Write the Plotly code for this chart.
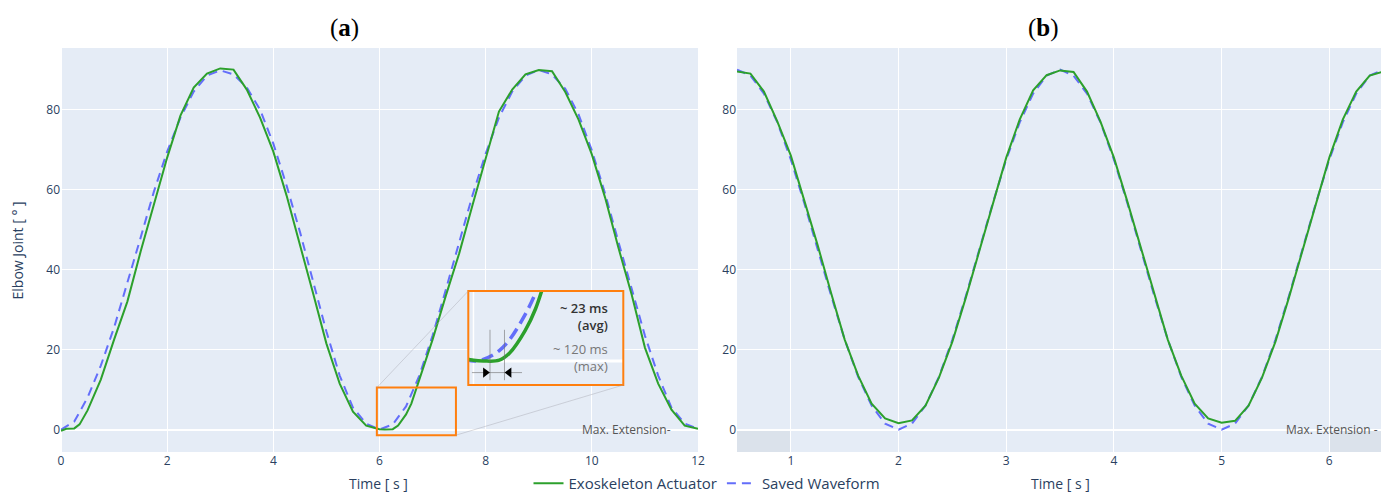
import plotly.graph_objects as go

# ---------------- data ----------------
# Panel (a): Saved waveform sampled every 0.25 s
time_a_saved = [0, 0.25, 0.5, 0.75, 1, 1.25, 1.5, 1.75, 2, 2.25, 2.5, 2.75, 3, 3.25, 3.5, 3.75,
                4, 4.25, 4.5, 4.75, 5, 5.25, 5.5, 5.75, 6, 6.25, 6.5, 6.75, 7, 7.25, 7.5, 7.75,
                8, 8.25, 8.5, 8.75, 9, 9.25, 9.5, 9.75, 10, 10.25, 10.5, 10.75, 11, 11.25, 11.5,
                11.75, 12]
saved_a = [0.0, 2.0, 8.0, 16.0, 25.5, 36.5, 48.0, 59.5, 69.5, 78.0, 84.5, 88.5, 89.8, 88.8, 85.5,
           80.0, 71.5, 61.0, 49.5, 37.0, 24.5, 13.5, 5.5, 1.5, 0.0,
           1.3, 5.8, 13.5, 23.5, 35.0, 47.0, 58.5, 69.0, 78.0, 84.5, 88.5, 89.9, 88.8, 85.2,
           78.8, 69.8, 59.0, 47.0, 35.5, 23.5, 13.5, 5.5, 1.5, 0.2]

# Panel (a): Exoskeleton actuator
time_a_act = [0, 0.1, 0.25, 0.35, 0.5, 0.75, 1.0, 1.25, 1.5, 1.75, 2.0, 2.25, 2.5, 2.75, 3.0,
              3.25, 3.5, 3.75, 4.0, 4.25, 4.5, 4.75, 5.0, 5.25, 5.5, 5.75, 6.0, 6.1, 6.25, 6.35,
              6.5, 6.6, 6.75, 7.0, 7.25, 7.5, 7.75, 8.0, 8.25, 8.5, 8.75, 9.0, 9.25, 9.5, 9.75,
              10.0, 10.25, 10.5, 10.75, 11.0, 11.25, 11.5, 11.75, 12.0]
actuator_a = [-0.3, 0.2, 0.3, 1.3, 4.8, 12.5, 22.5, 32.0, 44.5, 56.5, 68.0, 78.5, 85.5, 89.0,
              90.3, 90.0, 85.0, 78.0, 69.5, 58.5, 46.5, 34.0, 21.5, 11.5, 4.5, 1.0, 0.1, 0.0,
              0.1, 1.0, 3.8, 6.5, 12.5, 22.5, 33.5, 44.0, 56.0, 68.0, 79.5, 85.0, 88.8, 89.9,
              89.6, 84.4, 77.5, 68.8, 58.0, 45.5, 33.8, 20.5, 11.5, 5.0, 1.0, 0.2]

# Panel (b): sampled every 0.125 s
time_b = [0.5, 0.625, 0.75, 0.875, 1.0, 1.125, 1.25, 1.375, 1.5, 1.625, 1.75, 1.875, 2.0, 2.125,
          2.25, 2.375, 2.5, 2.625, 2.75, 2.875, 3.0, 3.125, 3.25, 3.375, 3.5, 3.625, 3.75, 3.875,
          4.0, 4.125, 4.25, 4.375, 4.5, 4.625, 4.75, 4.875, 5.0, 5.125, 5.25, 5.375, 5.5, 5.625,
          5.75, 5.875, 6.0, 6.125, 6.25, 6.375, 6.5]
saved_b = [90.0, 88.5, 84.0, 76.8, 67.5, 56.6, 45.0, 33.4, 22.5, 13.2, 6.0, 1.5, 0.0, 1.5, 6.0,
           13.2, 22.5, 33.4, 45.0, 56.6, 67.5, 76.8, 84.0, 88.5, 90.0, 88.5, 84.0, 76.8, 67.5,
           56.6, 45.0, 33.4, 22.5, 13.2, 6.0, 1.5, 0.0, 1.5, 6.0, 13.2, 22.5, 33.4, 45.0, 56.6,
           67.5, 76.8, 84.0, 88.5, 90.0]
actuator_b = [89.5, 89.0, 84.5, 77.0, 68.5, 57.5, 46.0, 34.0, 22.5, 13.5, 6.5, 2.8, 1.6, 2.3,
              6.0, 13.0, 22.0, 33.0, 44.5, 56.5, 68.0, 77.5, 84.8, 88.6, 89.8, 89.4, 84.5, 77.0,
              68.0, 57.0, 45.5, 33.8, 22.5, 13.5, 6.5, 2.8, 1.7, 2.2, 6.0, 13.0, 22.0, 33.0, 44.5,
              56.5, 68.0, 77.5, 84.5, 88.5, 89.5]

x_ticks_a = [0, 2, 4, 6, 8, 10, 12]
x_ticks_b = [1, 2, 3, 4, 5, 6]
y_ticks = [0, 20, 40, 60, 80]

zoom_window_t = [5.95, 7.44]      # small orange box (data coords of panel a)
zoom_window_v = [-1.4, 10.5]
inset_view_t = [5.95, 7.45]       # what the magnified inset shows
inset_view_v = [-3.0, 8.75]
inset_grid_t = 6.0
lag_bounds_t = [6.16, 6.30]       # the two thin markers of the delay
lag_span_t = [5.985, 6.47]
lag_level_v = -1.45
lag_marker_v = [-2.4, 3.9]
shaded_b_t = [[0.5, 1.0], [6.0, 6.48]]

# ---------------- layout geometry ----------------
W, H = 1385, 493
ML, MR, MT, MB = 61, 4, 48, 41
PW = W - ML - MR
PH = H - MT - MB


def px_x(px):
    return (px - ML) / PW


def px_y(py):
    return (H - MB - py) / PH


dom_a = [0, px_x(698)]
dom_b = [px_x(737), 1.0]
y_range = [-5.6, 95.4]
x_range_a = [0, 12]
x_range_b = [0.5, 6.48]
inset_dom_x = [px_x(468.3), px_x(623.3)]
inset_dom_y = [px_y(385), px_y(291)]


def a_to_paper(t, v):
    px = dom_a[0] + (t - x_range_a[0]) / (x_range_a[1] - x_range_a[0]) * (dom_a[1] - dom_a[0])
    py = (v - y_range[0]) / (y_range[1] - y_range[0])
    return px, py


GREEN = "#2ca02c"
BLUE = "#636efa"
ORANGE = "#ff7f0e"
BG = "#e5ecf6"
FONT = "Open Sans"
TITLE_COLOR = "#2a3f5f"

fig = go.Figure()

# panel (a)
fig.add_trace(go.Scatter(x=time_a_saved, y=saved_a, mode="lines", name="Saved Waveform",
                         line=dict(color=BLUE, width=2, dash="9px,6px"), legendrank=2,
                         xaxis="x", yaxis="y"))
fig.add_trace(go.Scatter(x=time_a_act, y=actuator_a, mode="lines", name="Exoskeleton Actuator",
                         line=dict(color=GREEN, width=2), legendrank=1, xaxis="x", yaxis="y"))
# panel (b)
fig.add_trace(go.Scatter(x=time_b, y=saved_b, mode="lines", showlegend=False,
                         line=dict(color=BLUE, width=2, dash="9px,6px"), xaxis="x2", yaxis="y2"))
fig.add_trace(go.Scatter(x=time_b, y=actuator_b, mode="lines", showlegend=False,
                         line=dict(color=GREEN, width=2), xaxis="x2", yaxis="y2"))

# inset: opaque background and its own grid lines (drawn as traces under the data)
t0, t1 = inset_view_t
v0, v1 = inset_view_v
fig.add_trace(go.Scatter(x=[t0, t1, t1, t0, t0], y=[v0, v0, v1, v1, v0], mode="lines",
                         fill="toself", fillcolor=BG, line=dict(width=0, color=BG),
                         showlegend=False, hoverinfo="skip", xaxis="x3", yaxis="y3"))
fig.add_trace(go.Scatter(x=[t0, t1], y=[0, 0], mode="lines", line=dict(color="white", width=3),
                         showlegend=False, hoverinfo="skip", xaxis="x3", yaxis="y3"))
fig.add_trace(go.Scatter(x=[inset_grid_t, inset_grid_t], y=[v0, v1], mode="lines",
                         line=dict(color="white", width=1.5),
                         showlegend=False, hoverinfo="skip", xaxis="x3", yaxis="y3"))
# inset (magnified data)
fig.add_trace(go.Scatter(x=time_a_saved, y=saved_a, mode="lines", showlegend=False,
                         line=dict(color=BLUE, width=3.5, dash="12px,6px", shape="spline"),
                         xaxis="x3", yaxis="y3"))
fig.add_trace(go.Scatter(x=time_a_act, y=actuator_a, mode="lines", showlegend=False,
                         line=dict(color=GREEN, width=3.5, shape="spline"),
                         xaxis="x3", yaxis="y3"))
# delay guide lines
for tb in lag_bounds_t:
    fig.add_trace(go.Scatter(x=[tb, tb], y=lag_marker_v, mode="lines",
                             line=dict(color="rgba(110,110,110,0.6)", width=1),
                             showlegend=False, hoverinfo="skip", xaxis="x3", yaxis="y3"))
fig.add_trace(go.Scatter(x=lag_span_t, y=[lag_level_v, lag_level_v], mode="lines",
                         line=dict(color="rgba(110,110,110,0.6)", width=1),
                         showlegend=False, hoverinfo="skip", xaxis="x3", yaxis="y3"))
fig.add_trace(go.Scatter(x=[lag_bounds_t[0] - 0.045, lag_bounds_t[1] + 0.045],
                         y=[lag_level_v, lag_level_v], mode="markers", showlegend=False,
                         marker=dict(symbol=["triangle-right", "triangle-left"], size=9,
                                     color="black"),
                         xaxis="x3", yaxis="y3", hoverinfo="skip"))

shapes = []
# shaded regions on panel (b)
for s0, s1 in shaded_b_t:
    shapes.append(dict(type="rect", xref="x2", yref="y2", x0=s0, x1=s1, y0=y_range[0], y1=0,
                       fillcolor="rgba(190,195,205,0.25)", line=dict(width=0), layer="below"))
# inset border (paper coords)
shapes.append(dict(type="rect", xref="paper", yref="paper", x0=inset_dom_x[0],
                   x1=inset_dom_x[1], y0=inset_dom_y[0], y1=inset_dom_y[1],
                   line=dict(color=ORANGE, width=2), layer="above"))
# zoom window on (a)
shapes.append(dict(type="rect", xref="x", yref="y", x0=zoom_window_t[0], x1=zoom_window_t[1],
                   y0=zoom_window_v[0], y1=zoom_window_v[1],
                   line=dict(color=ORANGE, width=2), layer="above"))
# connector lines
tl = a_to_paper(zoom_window_t[0], zoom_window_v[1])
br = a_to_paper(zoom_window_t[1], zoom_window_v[0])
shapes.append(dict(type="line", xref="paper", yref="paper", x0=tl[0], y0=tl[1],
                   x1=inset_dom_x[0], y1=inset_dom_y[1],
                   line=dict(color="rgba(160,160,170,0.4)", width=1), layer="above"))
shapes.append(dict(type="line", xref="paper", yref="paper", x0=br[0], y0=br[1],
                   x1=inset_dom_x[1], y1=inset_dom_y[0],
                   line=dict(color="rgba(160,160,170,0.4)", width=1), layer="above"))

txt_x = inset_dom_x[0] + 0.915 * (inset_dom_x[1] - inset_dom_x[0])

annotations = [
    dict(text="(<b>a</b>)", xref="paper", yref="paper", x=px_x(344), y=px_y(28),
         xanchor="center", yanchor="middle", showarrow=False,
         font=dict(family="Liberation Serif", size=25, color="black")),
    dict(text="(<b>b</b>)", xref="paper", yref="paper", x=px_x(1043), y=px_y(28),
         xanchor="center", yanchor="middle", showarrow=False,
         font=dict(family="Liberation Serif", size=25, color="black")),
    # axis titles
    dict(text="Time [ s ]", xref="paper", yref="paper", x=px_x(378), y=px_y(483.5),
         xanchor="center", yanchor="middle", showarrow=False,
         font=dict(family=FONT, size=14, color=TITLE_COLOR)),
    dict(text="Time [ s ]", xref="paper", yref="paper", x=px_x(1060), y=px_y(483.5),
         xanchor="center", yanchor="middle", showarrow=False,
         font=dict(family=FONT, size=14, color=TITLE_COLOR)),
    dict(text="Elbow Joint [ ° ]", xref="paper", yref="paper", x=px_x(16.5), y=px_y(251),
         xanchor="center", yanchor="middle", showarrow=False, textangle=-90,
         font=dict(family=FONT, size=14, color=TITLE_COLOR)),
    # max extension labels
    dict(text="Max. Extension-", xref="x", yref="y", x=11.53, y=0, xanchor="right",
         yanchor="middle", showarrow=False, font=dict(family=FONT, size=12, color="#555")),
    dict(text="Max. Extension -", xref="x2", yref="y2", x=6.47, y=0, xanchor="right",
         yanchor="middle", showarrow=False, font=dict(family=FONT, size=12, color="#555")),
    # inset notes
    dict(text="~ 23 ms<br>(avg)", xref="paper", yref="paper", x=txt_x, y=px_y(317),
         xanchor="right", yanchor="middle", align="right", showarrow=False,
         font=dict(family=FONT, size=13, color="#333", weight=600)),
    dict(text="~ 120 ms<br>(max)", xref="paper", yref="paper", x=txt_x, y=px_y(357.5),
         xanchor="right", yanchor="middle", align="right", showarrow=False,
         font=dict(family=FONT, size=13, color="#777")),
]

axis_common = dict(gridcolor="white", zerolinecolor="white", zerolinewidth=2,
                   automargin=False, tickfont=dict(size=12))

fig.update_layout(
    template="plotly",
    width=W, height=H,
    margin=dict(l=ML, r=MR, t=MT, b=MB),
    font=dict(family=FONT, color=TITLE_COLOR),
    plot_bgcolor=BG,
    paper_bgcolor="white",
    xaxis=dict(domain=dom_a, range=x_range_a, tickvals=x_ticks_a, anchor="y", **axis_common),
    yaxis=dict(domain=[0, 1], range=y_range, tickvals=y_ticks, anchor="x", **axis_common),
    xaxis2=dict(domain=dom_b, range=x_range_b, tickvals=x_ticks_b, anchor="y2", **axis_common),
    yaxis2=dict(domain=[0, 1], range=y_range, tickvals=y_ticks, anchor="x2", **axis_common),
    xaxis3=dict(domain=inset_dom_x, range=inset_view_t, anchor="y3", showticklabels=False,
                showgrid=False, zeroline=False, ticks=""),
    yaxis3=dict(domain=inset_dom_y, range=inset_view_v, anchor="x3", showticklabels=False,
                showgrid=False, zeroline=False, ticks=""),
    legend=dict(orientation="h", xref="paper", x=px_x(707), xanchor="center",
                yref="container", y=1 - 483.5 / H, yanchor="middle",
                font=dict(size=15), bgcolor="rgba(0,0,0,0)"),
    shapes=shapes,
    annotations=annotations,
)

fig.write_html(
    "out.html",
    config={"displayModeBar": False},
    post_script="document.body.style.margin='0';document.body.style.padding='0';"
                "document.body.style.overflow='hidden';",
)
